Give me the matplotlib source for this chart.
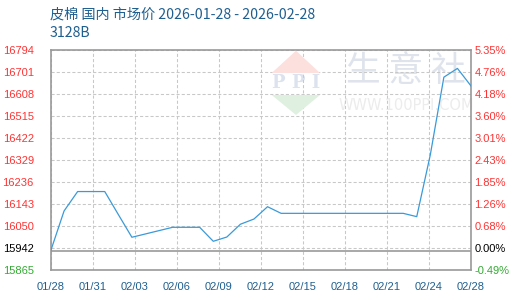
import matplotlib
matplotlib.use("Agg")
import matplotlib.pyplot as plt
import numpy as np
from matplotlib.patches import Polygon

# ---- data ----
days = list(range(32))  # day offsets from 2026-01-28 to 2026-02-28
prices = [15942, 16113, 16195, 16195, 16195, 16098, 16002, 16016, 16030, 16044,
          16044, 16044, 15985, 16003, 16057, 16079, 16131, 16103, 16103, 16103,
          16103, 16103, 16103, 16103, 16103, 16103, 16103, 16089, 16350, 16678,
          16715, 16641]
x_labels = ["01/28", "01/31", "02/03", "02/06", "02/09", "02/12", "02/15",
            "02/18", "02/21", "02/24", "02/28"]
left_labels = ["15865", "15942", "16050", "16143", "16236", "16329", "16422",
               "16515", "16608", "16701", "16794"]
right_labels = ["-0.49%", "0.00%", "0.68%", "1.26%", "1.85%", "2.43%", "3.01%",
                "3.60%", "4.18%", "4.76%", "5.35%"]
base_price = 15942
title = "皮棉 国内 市场价 2026-01-28 - 2026-02-28"
subtitle = "3128B"

RED = "#ff3333"
GREEN = "#33aa33"
BLACK = "#000000"
label_colors = [GREEN, BLACK] + [RED] * 9
TITLE_C = "#1f5f8f"
GRID_C = "#c8c8c8"
SPINE_C = "#999999"
LINE_C = "#3a9ad9"

fig = plt.figure(figsize=(5.2, 3.0), dpi=100)
ax = fig.add_axes([50.5 / 520, 1 - 269.7 / 300, (471 - 50.5) / 520, (269.7 - 49.7) / 300])

ymin, ymax = 15865, 16794
ax.set_ylim(ymin, ymax)
ax.set_xlim(0, 31)
yt = np.linspace(ymin, ymax, 11)
xt = np.linspace(0, 31, 11)

# watermark
fig.patches.append(Polygon([[271.7 / 520, 1 - 73 / 300], [296 / 520, 1 - 50.7 / 300], [320 / 520, 1 - 73 / 300]],
                           closed=True, transform=fig.transFigure, facecolor="#fbe0de", edgecolor="none", zorder=0))
fig.patches.append(Polygon([[271.7 / 520, 1 - 95 / 300], [296 / 520, 1 - 115 / 300], [320 / 520, 1 - 95 / 300]],
                           closed=True, transform=fig.transFigure, facecolor="#dff0e0", edgecolor="none", zorder=0))
ax.text(296 / 520, 1 - 83.5 / 300, "P P I", transform=fig.transFigure, ha="center", va="center",
        fontsize=13, family="DejaVu Serif", fontweight="bold", color="#dde3ee", zorder=0)
ax.text(406 / 520, 1 - 72 / 300, "生 意 社", transform=fig.transFigure, ha="center", va="center",
        fontsize=25, family=["Noto Sans CJK SC", "DejaVu Sans"], color="#dfe3ec", zorder=0)
ax.text(406 / 520, 1 - 106 / 300, "WWW.100PPI.COM", transform=fig.transFigure, ha="center", va="center",
        fontsize=10.5, family="DejaVu Sans", color="#ececec", zorder=0)

ax.set_facecolor("none")
ax.set_yticks(yt)
ax.set_yticklabels(left_labels, family="Liberation Sans", fontsize=8)
for t, c in zip(ax.get_yticklabels(), label_colors):
    t.set_color(c)
ax.set_xticks(xt)
ax.set_xticklabels(x_labels, family="Liberation Sans", fontsize=8, color=TITLE_C)
ax.tick_params(axis="y", length=0, pad=12)
ax.tick_params(axis="x", length=0, pad=9)

ax.grid(True, color=GRID_C, linestyle=(0, (3, 2)), linewidth=0.75)
ax.set_axisbelow(True)
for s in ax.spines.values():
    s.set_color(SPINE_C)
    s.set_linewidth(1.2)

ax.axhline(base_price, color=SPINE_C, linewidth=1.2, zorder=2)
ax.plot(days, prices, color=LINE_C, linewidth=0.9, zorder=3)

ax2 = ax.twinx()
ax2.set_ylim(ymin, ymax)
ax2.set_yticks(yt)
ax2.set_yticklabels(right_labels, family="Liberation Sans", fontsize=8)
for t, c in zip(ax2.get_yticklabels(), label_colors):
    t.set_color(c)
ax2.tick_params(axis="y", length=0, pad=2.5)
for s in ax2.spines.values():
    s.set_visible(False)

fig.text(50 / 520, 1 - 15 / 300, title, ha="left", va="center", fontsize=10.2,
         family=["Noto Sans CJK SC", "DejaVu Sans"], color=TITLE_C)
fig.text(50 / 520, 1 - 33 / 300, subtitle, ha="left", va="center", fontsize=10.2,
         family=["Noto Sans CJK SC", "DejaVu Sans"], color=TITLE_C)

fig.savefig("out.png", dpi=100)
